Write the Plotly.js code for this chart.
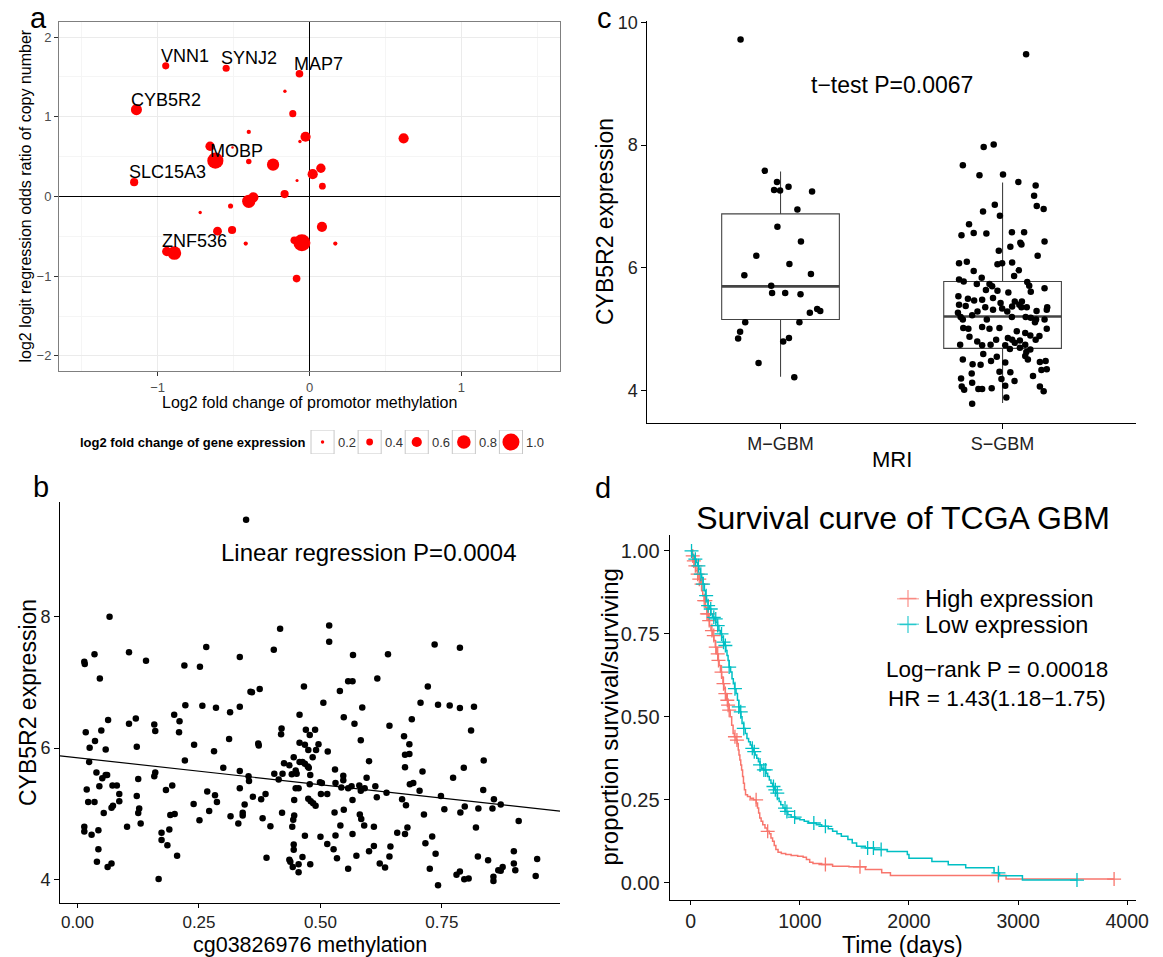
<!DOCTYPE html>
<html><head><meta charset="utf-8">
<script src="https://cdn.plot.ly/plotly-3.0.1.min.js"></script>
<style>html,body{margin:0;padding:0;background:#fff}#chart{width:1163px;height:957px}</style>
</head><body><div id="chart"></div>
<script>
// ---------- Panel a: bubble plot ----------
const methylLFC = [-0.947,-0.549,-0.066,-0.162,-0.110,-1.140,-0.400,-0.026,-0.063,0.620,-0.655,-0.507,-0.620,-0.400,-0.240,0.075,0.021,-0.082,0.085,-1.155,-0.164,-0.370,-0.400,-0.720,-0.520,0.082,-0.606,-0.510,-0.420,0.170,-0.050,-0.100,-0.940,-0.890,-0.085];
const copyNumberOR = [1.64,1.61,1.54,1.32,1.04,1.09,0.81,0.75,0.69,0.73,0.63,0.615,0.45,0.44,0.40,0.355,0.28,0.20,0.13,0.18,0.03,-0.01,-0.06,-0.20,-0.12,-0.38,-0.435,-0.42,-0.59,-0.59,-0.58,-0.55,-0.69,-0.71,-1.03];
const exprLFC = [0.42,0.42,0.45,0.2,0.42,0.65,0.25,0.6,0.2,0.6,0.55,0.15,0.95,0.32,0.72,0.55,0.6,0.18,0.4,0.48,0.48,0.6,0.78,0.2,0.3,0.6,0.52,0.48,0.25,0.25,1.0,0.45,0.55,0.8,0.45];
const geneLabels = ['VNN1','SYNJ2','MAP7','','','CYB5R2','','','','','','','MOBP','','','','','','','SLC15A3','','','','','','','','','','','','','ZNF536','',''];
const sizeLegendVals = [0.2,0.4,0.6,0.8,1.0];

// ---------- Panel b: methylation vs expression ----------
const cgMethylation = [0.347,0.066,0.014,0.015,0.035,0.046,0.106,0.141,0.265,0.220,0.252,0.334,0.417,0.404,0.518,0.518,0.567,0.639,0.735,0.787,0.356,0.359,0.375,0.466,0.540,0.557,0.566,0.617,0.721,
0.222,0.257,0.285,0.314,0.334,0.506,0.586,0.706,0.742,0.766,0.787,0.816,0.199,0.210,0.457,0.548,0.570,0.688,0.642,0.063,0.120,0.106,0.158,0.160,0.209,0.049,0.017,0.036,0.420,0.419,0.478,0.470,0.489,0.810,0.672,0.312,0.240,0.025,0.122,0.058,0.281,0.372,0.373,0.457,0.468,0.475,0.496,0.491,0.515,0.583,0.683,0.674,0.683,0.795,0.836,0.710,0.600,0.773,
0.024,0.039,0.058,0.051,0.061,0.045,0.019,0.022,0.035,0.054,0.043,0.014,0.014,0.029,0.043,0.040,0.062,0.070,0.072,0.081,0.086,0.086,0.073,0.070,0.125,0.122,0.127,0.125,0.130,0.102,0.158,0.160,0.182,0.195,0.221,0.191,0.200,0.189,0.173,0.173,0.185,0.205,0.167,
0.239,0.251,0.271,0.267,0.283,0.287,0.300,0.334,0.352,0.353,0.334,0.361,0.344,0.340,0.340,0.315,0.331,0.381,0.378,0.387,0.397,0.389,
0.405,0.414,0.422,0.425,0.436,0.441,0.421,0.442,0.444,0.446,0.446,0.449,0.451,0.445,0.449,0.455,0.445,0.445,0.436,0.438,0.443,0.455,0.455,0.463,0.468,0.479,0.457,0.463,0.468,0.474,0.476,0.479,0.478,0.475,0.480,0.485,0.490,0.484,0.499,0.503,0.501,0.500,
0.514,0.514,0.530,0.531,0.529,0.531,0.527,0.534,0.541,0.547,0.547,0.548,0.543,0.557,0.564,0.566,0.566,0.574,0.557,0.581,0.580,0.583,0.584,0.590,0.591,0.595,0.600,0.610,0.610,0.613,0.616,0.622,0.633,0.636,0.642,0.644,0.658,0.674,0.668,0.676,0.674,0.679,0.684,0.691,
0.704,0.713,0.716,0.725,0.730,0.737,0.742,0.748,0.755,0.780,0.787,0.788,0.797,0.796,0.805,0.825,0.820,0.824,0.835,0.845,0.854,0.857,0.856,0.856,0.866,0.871,0.871,0.875,0.898,0.898,0.901,0.908,0.943,0.946];
const cybExpression = [9.48,8.00,7.315,7.28,7.43,7.06,7.46,7.33,7.54,7.26,7.24,7.39,7.82,7.50,7.87,7.62,7.42,7.43,7.58,7.53,6.86,6.85,6.90,6.94,6.87,7.02,7.02,7.06,6.94,
6.655,6.645,6.614,6.548,6.63,6.69,6.62,6.69,6.66,6.65,6.61,6.63,6.51,6.41,6.51,6.47,6.37,6.44,6.34,6.43,6.45,6.37,6.36,6.26,6.24,6.27,6.24,6.11,6.30,6.21,6.20,6.28,6.28,6.27,6.18,6.14,6.05,6.005,6.02,5.98,5.954,6.07,6.04,6.08,6.05,5.97,6.06,5.97,5.95,6.12,6.06,5.90,5.91,5.70,5.81,5.645,5.80,5.55,
5.79,5.63,5.59,5.54,5.59,5.42,5.37,5.18,5.18,5.01,4.75,4.80,4.73,4.68,4.46,4.27,4.19,4.24,5.43,5.43,5.30,5.19,5.12,5.09,5.53,5.27,5.08,5.01,4.85,4.80,5.57,5.63,5.36,5.43,5.81,4.98,4.995,4.76,4.71,4.60,4.52,4.36,4.005,
5.15,4.90,5.04,5.34,5.28,5.18,5.70,5.65,5.57,5.50,5.39,5.26,5.14,5.015,4.975,4.96,4.85,4.93,5.22,5.30,4.81,4.33,
5.61,5.52,5.61,5.77,5.74,5.60,5.015,4.80,4.91,4.975,5.21,5.66,5.61,5.86,5.39,5.39,4.53,4.45,4.30,4.27,4.19,4.23,4.11,4.34,4.665,4.23,5.79,5.79,5.76,5.72,5.70,5.59,5.45,5.23,5.19,5.16,5.12,5.86,5.48,5.47,5.30,4.65,
5.30,4.54,5.675,5.47,5.02,4.67,4.46,4.32,4.82,5.58,5.51,5.06,5.40,5.39,5.42,5.21,4.69,4.36,4.16,4.99,5.43,5.35,4.92,4.82,5.39,5.55,4.43,4.80,4.51,5.42,5.25,4.24,4.18,5.32,4.35,4.50,4.71,4.69,5.22,5.13,5.71,4.79,5.45,5.47,
5.35,4.99,4.55,4.16,4.655,4.39,3.91,5.27,5.07,4.07,4.12,5.02,5.11,4.00,4.015,5.08,4.79,4.35,5.36,4.29,5.08,5.22,4.04,3.975,4.14,5.14,4.13,4.19,4.43,4.24,4.14,4.89,4.05,4.31];
const regIntercept = 5.853;
const regSlope = -0.819;

// ---------- Panel c: box plot by MRI group ----------
const mriGroups = ['M\u2212GBM','S\u2212GBM'];
const boxQ1 = [5.16,4.69];
const boxMedian = [5.70,5.21];
const boxQ3 = [6.88,5.78];
const boxLow = [4.23,3.80];
const boxHigh = [7.57,7.39];
const mJitter = [-0.18,-0.071,-0.016,-0.029,-0.002,0.036,0.142,0.076,-0.014,0.092,-0.109,0.040,-0.163,0.137,-0.042,-0.038,0.021,0.090,0.165,0.179,0.132,-0.159,0.085,-0.182,-0.191,0.038,0.012,-0.099,0.062];
const mExpr = [9.72,7.58,7.40,7.27,7.26,7.32,7.245,6.95,6.67,6.43,6.20,6.065,5.88,5.90,5.71,5.59,5.59,5.57,5.33,5.30,5.27,5.115,5.115,4.96,4.85,4.86,4.80,4.45,4.22];
const sJitter = [0.106,-0.085,-0.040,-0.179,-0.104,0.002,0.071,0.149,0.142,0.154,0.185,-0.035,-0.088,-0.012,-0.151,
-0.185,-0.130,-0.073,0.042,0.097,0.080,0.085,0.035,0.189,-0.017,0.158,-0.196,-0.161,-0.023,-0.002,0.043,-0.130,0.073,-0.094,0.052,-0.196,-0.175,-0.116,-0.059,-0.047,0.111,0.120,0.189,-0.075,-0.023,0.026,0.127,-0.199,-0.156,-0.128,-0.043,-0.092,0.087,-0.009,0.055,0.075,-0.196,-0.166,-0.078,-0.043,-0.002,0.043,0.085,0.109,0.201,0.199,-0.201,-0.113,0.021,0.153,-0.189,-0.137,-0.179,-0.071,0.042,0.104,0.127,0.151,0.189,0.146,-0.177,-0.154,-0.092,-0.059,-0.014,0.199,0.064,0.102,0.125,0.166,-0.149,-0.114,-0.029,0.024,0.043,0.055,0.078,0.102,0.149,-0.191,-0.092,-0.054,0.012,0.033,0.078,0.107,0.125,-0.179,-0.135,-0.099,-0.087,-0.026,-0.052,0.012,0.102,0.114,0.168,0.194,0.175,0.199,-0.139,-0.014,0.035,-0.187,-0.137,-0.005,0.054,0.137,-0.184,-0.173,-0.109,-0.092,-0.049,0.012,0.168,0.185,0.017,-0.137];
const sExpr = [9.48,7.97,8.01,7.67,7.51,7.52,7.40,7.34,7.175,7.01,6.96,7.03,6.92,6.85,6.71,
6.53,6.57,6.56,6.58,6.58,6.41,6.38,6.345,6.43,6.28,6.20,6.075,6.10,6.06,6.075,6.09,5.95,5.96,5.84,5.87,5.81,5.78,5.74,5.74,5.70,5.77,5.71,5.67,5.64,5.63,5.60,5.61,5.54,5.50,5.47,5.51,5.48,5.455,5.43,5.455,5.40,5.40,5.38,5.36,5.32,5.34,5.37,5.36,5.36,5.36,5.32,5.27,5.29,5.29,5.30,5.20,5.23,5.16,5.16,5.20,5.20,5.19,5.16,5.16,5.115,5.02,5.01,5.04,5.01,5.02,5.01,4.97,4.94,4.90,4.89,4.88,4.80,4.83,4.86,4.83,4.78,4.82,4.75,4.83,4.75,4.74,4.75,4.74,4.68,4.70,4.63,4.67,4.51,4.43,4.425,4.60,4.555,4.485,4.46,4.565,4.51,4.47,4.485,4.34,4.35,4.28,4.31,4.30,4.20,4.13,4.19,4.16,4.24,4.07,4.015,4.03,4.03,4.04,4.08,4.07,3.99,3.89,3.79];

// ---------- Panel d: Kaplan-Meier ----------
const highTime = [0,12,25,35,48,60,75,90,100,110,123,135,148,160,172,185,200,212,225,237,248,260,272,283,295,305,317,330,342,352,362,375,388,400,415,425,435,442,450,458,466,475,483,492,502,520,545,575,600,612,622,632,645,660,680,700,720,735,750,765,780,800,830,870,920,980,1030,1060,1090,1120,1200,1300,1450,1600,1750,1830,2890,3880];
const highSurv = [1.0,0.985,0.97,0.955,0.94,0.93,0.915,0.9,0.88,0.865,0.85,0.83,0.81,0.79,0.775,0.76,0.745,0.73,0.71,0.69,0.67,0.655,0.635,0.62,0.60,0.585,0.57,0.55,0.535,0.52,0.50,0.475,0.45,0.44,0.43,0.42,0.40,0.385,0.37,0.355,0.34,0.32,0.30,0.28,0.265,0.26,0.255,0.25,0.24,0.225,0.21,0.195,0.185,0.175,0.165,0.155,0.148,0.135,0.125,0.112,0.10,0.092,0.088,0.085,0.082,0.080,0.077,0.07,0.062,0.058,0.055,0.05,0.048,0.04,0.03,0.022,0.011,0.011];
const lowTime = [0,10,20,35,50,62,75,88,100,112,125,135,145,158,170,185,200,215,230,245,258,270,285,298,310,322,332,342,352,365,378,390,402,415,428,440,450,460,470,485,500,515,530,545,560,575,590,605,620,635,650,670,690,705,720,735,750,765,780,795,810,825,845,865,890,920,960,1000,1040,1080,1150,1200,1260,1300,1340,1380,1440,1480,1520,1600,1680,1800,1985,2000,2210,2360,2520,2780,2830,3040,3540];
const lowSurv = [1.0,0.99,0.985,0.975,0.965,0.955,0.945,0.93,0.92,0.9,0.88,0.865,0.85,0.835,0.825,0.81,0.80,0.795,0.785,0.775,0.76,0.75,0.74,0.725,0.715,0.70,0.685,0.67,0.65,0.635,0.615,0.60,0.585,0.57,0.55,0.53,0.515,0.50,0.48,0.465,0.45,0.435,0.425,0.415,0.405,0.395,0.385,0.375,0.365,0.355,0.345,0.34,0.33,0.32,0.31,0.30,0.29,0.28,0.27,0.255,0.245,0.235,0.225,0.215,0.205,0.198,0.193,0.19,0.185,0.18,0.175,0.17,0.163,0.155,0.148,0.14,0.13,0.12,0.11,0.105,0.10,0.094,0.085,0.074,0.064,0.054,0.045,0.03,0.021,0.008,0.008];
const highCensor = [18,28,42,63,78,99,123,134,148,159,169,194,211,229,247,254,282,300,317,335,342,352,405,423,599,705,1234,1551,2820,3880];
const lowCensor = [7,42,70,92,113,141,159,183,211,229,247,282,300,317,352,405,440,458,486,564,582,635,670,687,758,775,793,864,881,952,1128,1234,1621,1674,1745,2820,3540];
const groupNames = ['High expression','Low expression'];
const groupColors = ['#F8766D','#00BFC4'];

// ---------- helpers ----------
const FONT = 'Liberation Sans, Arial, Helvetica, sans-serif';
const W = 1163, H = 957;
const fx = v => v / W;
const fy = v => 1 - v / H;
function stepAt(times, surv, t) {
  let s = surv[0];
  for (let i = 0; i < times.length; i++) { if (times[i] <= t) s = surv[i]; else break; }
  return s;
}
function txt(text, x, y, size, extra) {
  return Object.assign({xref:'paper', yref:'paper', x:fx(x), y:fy(y), text:text, showarrow:false,
    xanchor:'center', yanchor:'middle', font:{family:FONT, size:size, color:'#000'}}, extra || {});
}
function classicAxis(extra) {
  return Object.assign({showline:true, linecolor:'#000', linewidth:1, ticks:'outside', ticklen:5, tickwidth:1,
    tickcolor:'#000', showgrid:false, zeroline:false, tickfont:{family:FONT, size:18, color:'#222'}, fixedrange:true}, extra);
}

const traces = [];
// Panel a bubbles
traces.push({type:'scatter', mode:'markers', x:methylLFC, y:copyNumberOR, xaxis:'x', yaxis:'y',
  marker:{color:'#FF0000', opacity:1, size:exprLFC, sizemode:'diameter', sizeref:1/17, line:{width:0}}, showlegend:false, hoverinfo:'skip', cliponaxis:false});
// Panel a size legend keys
traces.push({type:'scatter', mode:'markers', x:sizeLegendVals.map((v,i)=>i), y:sizeLegendVals.map(()=>0), xaxis:'x2', yaxis:'y2',
  marker:{color:'#FF0000', opacity:1, size:sizeLegendVals, sizemode:'diameter', sizeref:1/17, line:{width:0}}, showlegend:false, hoverinfo:'skip'});
// Panel b scatter + regression
traces.push({type:'scatter', mode:'markers', x:cgMethylation, y:cybExpression, xaxis:'x3', yaxis:'y3',
  marker:{color:'#000', size:6.5}, showlegend:false, hoverinfo:'skip'});
const bRange = [-0.036, 0.993];
traces.push({type:'scatter', mode:'lines', x:bRange, y:bRange.map(v=>regIntercept + regSlope*v), xaxis:'x3', yaxis:'y3',
  line:{color:'#000', width:1.2}, showlegend:false, hoverinfo:'skip'});
// Panel c boxes
const boxWidth = 0.53;
mriGroups.forEach((g,i)=>{
  traces.push({type:'box', x:[i+1], q1:[boxQ1[i]], median:[boxMedian[i]], q3:[boxQ3[i]], lowerfence:[boxLow[i]], upperfence:[boxHigh[i]],
    xaxis:'x4', yaxis:'y4', width:boxWidth, whiskerwidth:0, boxpoints:false, fillcolor:'#fff', line:{color:'#444', width:1.1},
    showlegend:false, hoverinfo:'skip'});
  traces.push({type:'scatter', mode:'lines', x:[i+1-boxWidth/2, i+1+boxWidth/2], y:[boxMedian[i], boxMedian[i]], xaxis:'x4', yaxis:'y4',
    line:{color:'#444', width:2.6}, showlegend:false, hoverinfo:'skip'});
});
traces.push({type:'scatter', mode:'markers', x:mJitter.map(v=>1+v), y:mExpr, xaxis:'x4', yaxis:'y4',
  marker:{color:'#000', size:6.5}, showlegend:false, hoverinfo:'skip'});
traces.push({type:'scatter', mode:'markers', x:sJitter.map(v=>2+v), y:sExpr, xaxis:'x4', yaxis:'y4',
  marker:{color:'#000', size:6.5}, showlegend:false, hoverinfo:'skip'});
// Panel d KM curves
[[highTime,highSurv,highCensor],[lowTime,lowSurv,lowCensor]].forEach((g,i)=>{
  traces.push({type:'scatter', mode:'lines', x:g[0], y:g[1], xaxis:'x5', yaxis:'y5', line:{color:groupColors[i], width:1.5, shape:'hv'},
    showlegend:false, hoverinfo:'skip'});
  traces.push({type:'scatter', mode:'markers', x:g[2], y:g[2].map(t=>stepAt(g[0], g[1], t)), xaxis:'x5', yaxis:'y5',
    marker:{symbol:'cross-thin-open', size:10, color:groupColors[i], line:{color:groupColors[i], width:1.3}},
    showlegend:false, hoverinfo:'skip', cliponaxis:false});
  // legend key
  traces.push({type:'scatter', mode:'lines+markers', x:[0,0.5,1], y:[1-i,1-i,1-i], xaxis:'x6', yaxis:'y6',
    line:{color:groupColors[i], width:1.5}, marker:{symbol:'cross-thin-open', size:[0,12,0], color:groupColors[i], line:{color:groupColors[i], width:1.4}},
    showlegend:false, hoverinfo:'skip', cliponaxis:false});
});

const annotations = [
  txt('a', 38, 17.6, 29), txt('b', 41, 486.6, 29), txt('c', 604.5, 17.6, 29), txt('d', 603.3, 487.6, 29),
  txt('log2 logit regression odds ratio of copy number', 25, 196.5, 16, {textangle:-90}),
  txt('Log2 fold change of promotor methylation', 309.5, 402, 16),
  txt('<b>log2 fold change of gene expression</b>', 307, 442, 13, {xanchor:'right'}),
  txt('CYB5R2 expression', 27.5, 702.5, 23, {textangle:-90}),
  txt('cg03826976 methylation', 309.5, 944.5, 21.5),
  txt('CYB5R2 expression', 605, 222, 23, {textangle:-90}),
  txt('MRI', 892, 460, 22),
  txt('proportion survival/surviving', 609, 717.5, 24, {textangle:-90}),
  txt('Time (days)', 902, 944.5, 23),
  txt('Log\u2212rank P = 0.00018', 997, 669, 22.5),
  txt('HR = 1.43(1.18\u22121.75)', 997, 698, 22.5),
  txt(groupNames[0], 923, 598.5, 23.5, {xanchor:'left'}),
  txt(groupNames[1], 923, 624.5, 23.5, {xanchor:'left'}),
  {xref:'x3', yref:'y3', x:0.60, y:8.98, text:'Linear regression P=0.0004', showarrow:false, font:{family:FONT, size:24, color:'#000'}},
  {xref:'x4', yref:'y4', x:1.5, y:8.98, text:'t\u2212test P=0.0067', showarrow:false, font:{family:FONT, size:23, color:'#000'}}
];
geneLabels.forEach((g,i)=>{
  if (g) annotations.push({xref:'x', yref:'y', x:methylLFC[i], y:copyNumberOR[i], text:g, showarrow:false,
    xanchor:'left', yanchor:'middle', xshift:-7, yshift:10, font:{family:FONT, size:18, color:'#000'}});
});
sizeLegendVals.forEach((v,i)=>{
  annotations.push({xref:'x2', yref:'y2', x:i, y:0, text:v.toFixed(1), showarrow:false, xanchor:'left', xshift:13,
    font:{family:FONT, size:13, color:'#333'}});
});
const shapes = sizeLegendVals.map((v,i)=>({type:'rect', xref:'x2', yref:'y2', x0:i-0.245, x1:i+0.245, y0:-1, y1:1,
  line:{color:'#c8c8c8', width:1}, fillcolor:'#fff', layer:'below'}));

const bwAxis = {showline:true, mirror:true, linecolor:'#7f7f7f', linewidth:1, ticks:'outside', ticklen:4, tickcolor:'#333',
  showgrid:true, gridcolor:'#ebebeb', gridwidth:1, zeroline:true, zerolinecolor:'#000', zerolinewidth:1.6, dtick:1, tick0:0,
  minor:{dtick:0.5, showgrid:true, gridcolor:'#f5f5f5', gridwidth:1}, tickfont:{family:FONT, size:13, color:'#4d4d4d'}, fixedrange:true};

const layout = {
  width:W, height:H, margin:{l:0, r:0, t:0, b:0}, paper_bgcolor:'#fff', plot_bgcolor:'rgba(0,0,0,0)',
  showlegend:false, hovermode:false, font:{family:FONT},
  title:{text:'Survival curve of TCGA GBM', x:fx(903), y:fy(518), xanchor:'center', yanchor:'middle', font:{family:FONT, size:32, color:'#000'}},
  xaxis: Object.assign({}, bwAxis, {domain:[fx(59), fx(560)], range:[-1.65,1.65], anchor:'y'}),
  yaxis: Object.assign({}, bwAxis, {domain:[fy(371), fy(22)], range:[-2.19,2.19], anchor:'x'}),
  xaxis2: {domain:[fx(299), fx(534.5)], range:[-0.5,4.5], visible:false, anchor:'y2', fixedrange:true},
  yaxis2: {domain:[fy(454), fy(430)], range:[-1,1], visible:false, anchor:'x2', fixedrange:true},
  xaxis3: classicAxis({domain:[fx(60), fx(560)], range:bRange, tickvals:[0,0.25,0.5,0.75], ticktext:['0.00','0.25','0.50','0.75'], anchor:'y3', ticklen:4, tickfont:{family:FONT,size:17,color:'#222'}}),
  yaxis3: classicAxis({domain:[fy(903), fy(502)], range:[3.64,9.75], tickvals:[4,6,8], anchor:'x3'}),
  xaxis4: classicAxis({domain:[fx(647.3), fx(1135.8)], range:[0.4,2.6], tickvals:[1,2], ticktext:mriGroups, anchor:'y4'}),
  yaxis4: classicAxis({domain:[fy(422.7), fy(21)], range:[3.48,10.02], tickvals:[4,6,8,10], anchor:'x4'}),
  xaxis5: classicAxis({domain:[fx(669.6), fx(1135.8)], range:[-194,4079], tickvals:[0,1000,2000,3000,4000], anchor:'y5', ticklen:4, tickfont:{family:FONT,size:19.5,color:'#222'}}),
  yaxis5: classicAxis({domain:[fy(900), fy(535)], range:[-0.052,1.048], tickvals:[0,0.25,0.5,0.75,1], ticktext:['0.00','0.25','0.50','0.75','1.00'], anchor:'x5', tickfont:{family:FONT,size:20,color:'#222'}}),
  xaxis6: {domain:[fx(897), fx(919)], range:[0,1], visible:false, anchor:'y6', fixedrange:true},
  yaxis6: {domain:[fy(624.5), fy(598.5)], range:[0,1], visible:false, anchor:'x6', fixedrange:true},
  annotations: annotations,
  shapes: shapes
};
Plotly.newPlot('chart', traces, layout, {staticPlot:true, displayModeBar:false});
</script></body></html>
